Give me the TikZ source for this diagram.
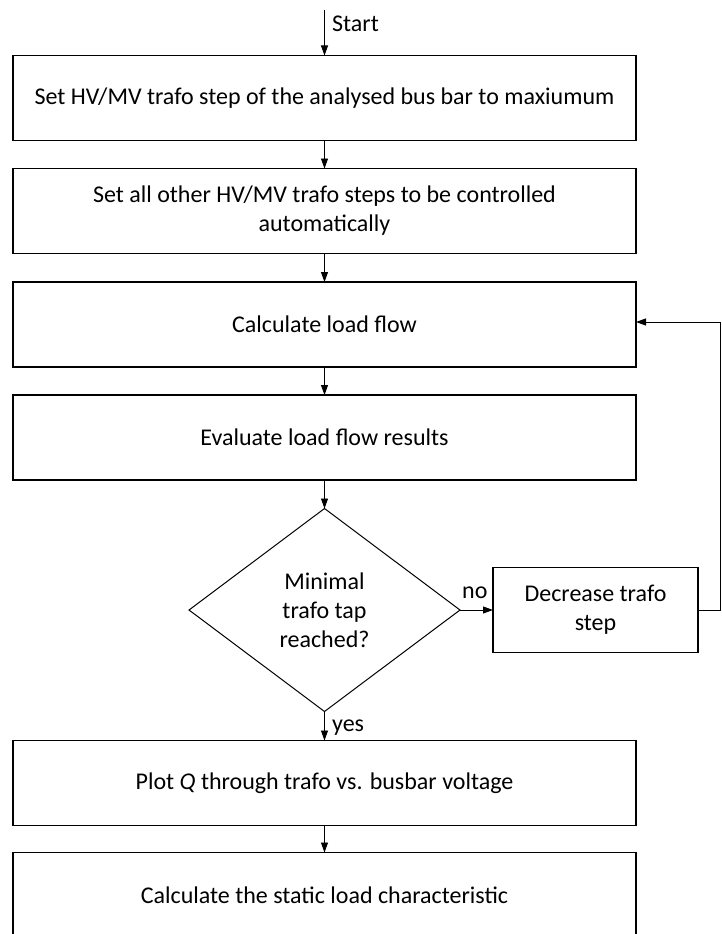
\documentclass[tikz,border=0pt]{standalone}
\usepackage{fontspec}
\setmainfont{Carlito}
\usetikzlibrary{arrows.meta,shapes.geometric}

\begin{document}
\begin{tikzpicture}[x=1pt,y=-1pt,
  txt/.style={font=\fontsize{24}{29}\selectfont},
  stepbox/.style={draw, line width=1.2pt, minimum width=623pt, minimum height=85pt,
    align=center, inner sep=0pt, outer sep=0pt, txt},
  decision/.style={diamond, draw, line width=1pt, minimum width=271pt, minimum height=203pt,
    align=center, inner sep=0pt, outer sep=0pt, txt},
  flow/.style={line width=0.9pt, -{Triangle[length=10pt,width=7pt]}},
  plain/.style={line width=0.9pt},
  lbl/.style={inner sep=0pt, txt}]

\useasboundingbox (0,0) rectangle (721,934);

% main column of process steps
\node[stepbox] (b1) at (324.5,98) {Set HV/MV trafo step of the analysed bus bar to maxiumum};
\node[stepbox] (b2) at (324.5,211) {Set all other HV/MV trafo steps to be controlled\\automatically};
\node[stepbox] (b3) at (324.5,324.5) {Calculate load flow};
\node[stepbox] (b4) at (324.5,437.5) {Evaluate load flow results};
\node[decision] (d) at (324.5,610) {Minimal\\trafo tap\\reached?};
\node[stepbox, minimum width=205pt] (dec) at (595.5,610) {Decrease trafo\\step};
\node[stepbox] (b5) at (324.5,783) {Plot \textit{Q} through trafo vs. busbar voltage};
\node[stepbox] (b6) at (324.5,895) {Calculate the static load characteristic};

% entry point
\coordinate (start) at (324.5,10);
\draw[flow] (start) -- (b1.north);
\node[lbl, anchor=west] (startlbl) at (332,24) {Start};

% sequence connectors
\draw[flow] (b1.south) -- (b2.north);
\draw[flow] (b2.south) -- (b3.north);
\draw[flow] (b3.south) -- (b4.north);
\draw[flow] (b4.south) -- (d.north);
\draw[flow] (d.south) -- (b5.north);
\draw[flow] (b5.south) -- (b6.north);

% decision branches
\draw[flow] (d.east) -- (dec.west);
\node[lbl, anchor=base west] (nolbl) at (462,598) {no};
\node[lbl, anchor=base west] (yeslbl) at (332,731) {yes};

% loop back to the load flow calculation
\coordinate (loopr) at (720.5,610);
\coordinate (loopt) at (720.5,322);
\draw[plain] (dec.east) -- (loopr) -- (loopt);
\draw[flow] (loopt) -- (b3.east |- loopt);

\end{tikzpicture}
\end{document}
